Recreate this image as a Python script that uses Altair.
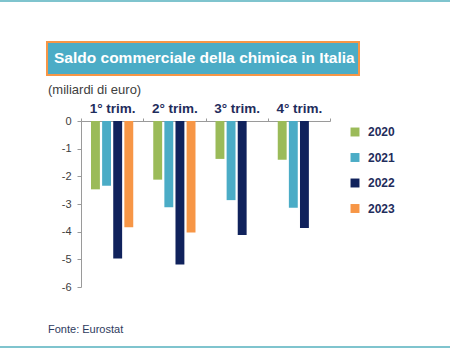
import altair as alt
import pandas as pd

quarters = ["1° trim.", "2° trim.", "3° trim.", "4° trim."]
years = ["2020", "2021", "2022", "2023"]
v2020 = [-2.47, -2.12, -1.37, -1.40]
v2021 = [-2.34, -3.12, -2.86, -3.14]
v2022 = [-4.97, -5.19, -4.12, -3.87]
v2023 = [-3.84, -4.03, None, None]
colors = ["#9BBB59", "#4BACC6", "#10225C", "#F79646"]

title_text = "Saldo commerciale della chimica in Italia"
subtitle_text = "(miliardi di euro)"
source_text = "Fonte: Eurostat"

rows = []
for yr, vals in zip(years, [v2020, v2021, v2022, v2023]):
    for q, v in zip(quarters, vals):
        if v is not None:
            rows.append({"trimestre": q, "anno": yr, "valore": v})
df = pd.DataFrame(rows)

W, H = 249, 166
L, T = 81, 121
FONT = "Liberation Sans"
NAVY = "#1F2D5C"

bars = alt.Chart(df).mark_bar().encode(
    x=alt.X("trimestre:N", sort=quarters,
            scale=alt.Scale(paddingInner=0, paddingOuter=0),
            axis=alt.Axis(orient="top", title=None, labelAngle=0,
                          labelFont=FONT, labelFontSize=13.5, labelFontWeight="bold",
                          labelColor=NAVY, labelPadding=3, tickSize=3, tickBand="extent",
                          domainColor="#9A9A9A", tickColor="#9A9A9A")),
    xOffset=alt.XOffset("anno:N", sort=years,
                        scale=alt.Scale(paddingInner=0.2, paddingOuter=0.9)),
    y=alt.Y("valore:Q", scale=alt.Scale(domain=[-6, 0], nice=False),
            axis=alt.Axis(title=None, values=[0, -1, -2, -3, -4, -5, -6], grid=False,
                          labelExpr="'' + datum.value", labelFont=FONT, labelFontSize=11,
                          labelColor="#404040", tickSize=4, labelPadding=6,
                          domainColor="#9A9A9A", tickColor="#9A9A9A")),
    color=alt.Color("anno:N", sort=years,
                    scale=alt.Scale(domain=years, range=colors),
                    legend=alt.Legend(title=None, orient="none", legendX=268, legendY=5,
                                      symbolType="square", symbolSize=80, symbolStrokeWidth=0,
                                      labelFont=FONT, labelFontSize=12, labelFontWeight="bold",
                                      labelColor=NAVY, rowPadding=13.5, labelOffset=7)),
)

one = pd.DataFrame([{"k": 1}])

top_line = alt.Chart(one).mark_rect(color="#7FC4CE").encode(
    x=alt.value(-L), x2=alt.value(450 - L), y=alt.value(-T), y2=alt.value(-T + 2))
bottom_line = alt.Chart(one).mark_rect(color="#7FC4CE").encode(
    x=alt.value(-L), x2=alt.value(450 - L), y=alt.value(346 - T), y2=alt.value(348 - T))

title_box = alt.Chart(one).mark_rect(fill="#4BACC6", stroke="#F79646", strokeWidth=2).encode(
    x=alt.value(47 - L), x2=alt.value(359 - L), y=alt.value(42 - T), y2=alt.value(75 - T))
title = alt.Chart(one).mark_text(text=title_text, font=FONT, fontSize=15.5, fontWeight="bold",
                                 color="white", align="left", baseline="middle").encode(
    x=alt.value(54 - L), y=alt.value(58 - T))
subtitle = alt.Chart(one).mark_text(text=subtitle_text, font=FONT, fontSize=13,
                                    color="#404040", align="left", baseline="middle").encode(
    x=alt.value(48 - L), y=alt.value(90 - T))
source = alt.Chart(one).mark_text(text=source_text, font=FONT, fontSize=11,
                                  color="#2E3B5E", align="left", baseline="middle").encode(
    x=alt.value(48 - L), y=alt.value(330 - T))

chart = alt.layer(top_line, bottom_line, title_box, title, subtitle, source, bars).properties(
    width=W, height=H,
    autosize=alt.AutoSizeParams(type="none"),
    padding={"left": L, "top": T, "right": 450 - L - W, "bottom": 350 - T - H},
    background="white",
).configure_view(stroke=None)

chart.save("out.html", embed_options={"renderer": "svg", "actions": False})
